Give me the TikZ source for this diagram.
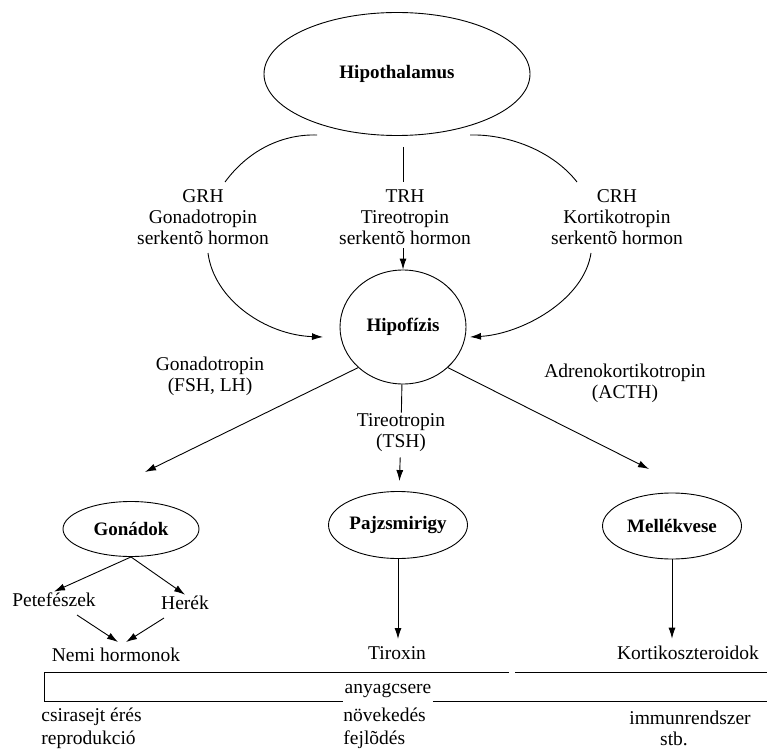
\documentclass[tikz,border=0pt]{standalone}
\usepackage{fontspec}
\setmainfont{Liberation Serif}
\usetikzlibrary{arrows.meta}
\usetikzlibrary{shapes.geometric}
\usetikzlibrary{positioning}

\begin{document}
\begin{tikzpicture}[
    x=1pt, y=-1pt,
    line width=0.9pt,
    every node/.style={font=\fontsize{19.5}{21}\selectfont, align=center, inner sep=1pt},
    gland/.style={ellipse, draw, inner sep=0pt, font=\fontsize{19}{21}\selectfont\bfseries},
    >={Latex[length=11pt,width=7pt]}
    ]
    \useasboundingbox (0,0) rectangle (767,751);

    % mirigyek
    \node[gland, minimum width=266pt, minimum height=123pt] (hypo) at (397,74) {Hipothalamus};
    \node[gland, minimum width=126pt, minimum height=114pt] (hipo) at (403,327) {Hipofízis};
    \node[gland, minimum width=136pt, minimum height=55pt] (gonad) at (131,529) {Gonádok};
    \node[gland, minimum width=139pt, minimum height=67pt] (pajzs) at (398,525) {Pajzsmirigy};
    \node[gland, minimum width=139pt, minimum height=66pt] (mellek) at (672,526) {Mellékvese};

    % feliratok
    \node (grh) at (203,217) {GRH\\Gonadotropin\\serkentõ hormon};
    \node (trh) at (405,217) {TRH\\Tireotropin\\serkentõ hormon};
    \node (crh) at (617,217) {CRH\\Kortikotropin\\serkentõ hormon};
    \node (fsh) at (210,376) {Gonadotropin\\(FSH, LH)};
    \node (tsh) at (401,433) {Tireotropin\\(TSH)};
    \node (acth) at (625,383) {Adrenokortikotropin\\(ACTH)};
    \node (pete) at (54,600) {Petefészek};
    \node (herek) at (185,603) {Herék};
    \node (nemi) at (116,655) {Nemi hormonok};
    \node (tirox) at (397,653) {Tiroxin};
    \node (kortiko) at (688,653) {Kortikoszteroidok};
    \node (anyag) at (388,691) {anyagcsere};
    \node[anchor=west, align=left] (csira) at (40,728) {csirasejt érés\\[2pt]reprodukció};
    \node[anchor=west, align=left] (novek) at (342,728) {növekedés\\[2pt]fejlõdés};
    \node (immun) at (690,718) {immunrendszer};
    \node (stb) at (674,739) {stb.};

    \coordinate (gl1) at (317,135);
    \coordinate (gl2) at (225,182);
    \coordinate (gl3) at (208,253);
    \coordinate (gl4) at (323,337);
    \coordinate (tl1) at (403,147);
    \coordinate (tl2) at (403,182);
    \coordinate (tl3) at (403,248);
    \coordinate (cl1) at (470,135);
    \coordinate (cl2) at (577,182);
    \coordinate (cl3) at (591,253);
    \coordinate (cl4) at (470,337);
    \coordinate (gonin) at (145,472);
    \coordinate (mellin) at (649,469);
    \coordinate (peteout) at (77,615);
    \coordinate (herekout) at (164,618);
    \coordinate (neml) at (118,642);
    \coordinate (nemr) at (126,642);
    \coordinate (boxtl) at (44,672);
    \coordinate (boxbl) at (44,701);

    \draw (gl1) .. controls (285,134) and (250,148) .. (gl2);
    \draw (tl1) -- (tl2);
    \draw (cl1) .. controls (507,134) and (552,150) .. (cl2);
    \draw[->] (gl3) .. controls (214,300) and (266,335) .. (gl4);
    \draw[->] (tl3) -- (hipo);
    \draw[->] (cl3) .. controls (584,300) and (522,334) .. (cl4);

    \draw[->] (hipo.south west) -- (gonin);
    \draw (hipo) -- (tsh);
    \draw[->, shorten <=4pt, shorten >=10pt] (tsh) -- (pajzs);
    \draw[->] (hipo.south east) -- (mellin);

    \draw[->] (gonad.south) -- (pete.north);
    \draw[->] (gonad.south) -- (herek.north);
    \draw[->] (peteout) -- (neml);
    \draw[->] (herekout) -- (nemr);
    \draw[->, shorten >=6pt] (pajzs) -- (pajzs |- tirox.north);
    \draw[->, shorten >=6pt] (mellek) -- (mellek |- kortiko.north);

    \draw (515,672) -- (767,672);
    \draw (509,672) -- (boxtl) -- (boxbl) -- (anyag.west |- boxbl);
    \draw (anyag.east |- boxbl) -- (767,701);
\end{tikzpicture}
\end{document}
